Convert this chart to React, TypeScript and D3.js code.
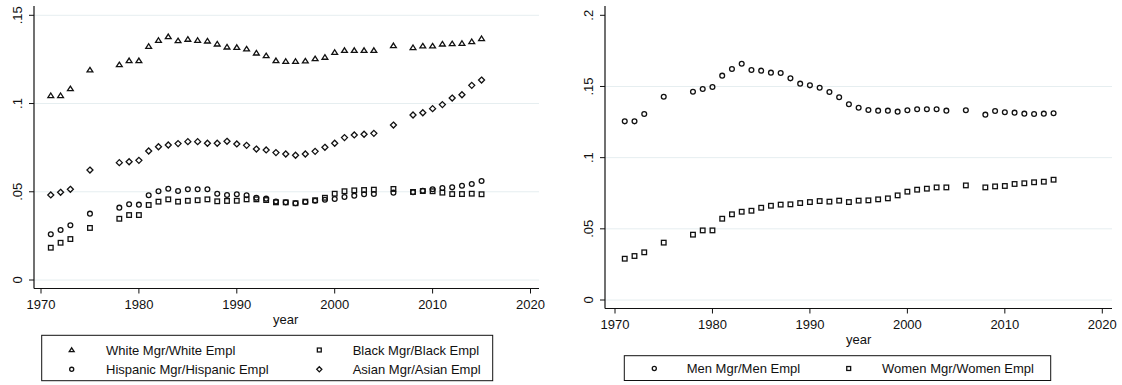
import React from "react";
import * as d3 from "d3";

// Survey years (gaps in 1974, 1976-77, 2005, 2007)
const years = [
  1971, 1972, 1973, 1975, 1978, 1979, 1980, 1981, 1982, 1983, 1984, 1985, 1986,
  1987, 1988, 1989, 1990, 1991, 1992, 1993, 1994, 1995, 1996, 1997, 1998, 1999,
  2000, 2001, 2002, 2003, 2004, 2006, 2008, 2009, 2010, 2011, 2012, 2013, 2014,
  2015,
];

// Race/ethnicity: share of managers relative to employment
const whiteRatio = [
  0.1045, 0.1045, 0.1084, 0.119, 0.122, 0.1243, 0.1243, 0.1324, 0.1358, 0.1379,
  0.1356, 0.1364, 0.1358, 0.1354, 0.1337, 0.132, 0.1318, 0.1309, 0.1286, 0.1271,
  0.1243, 0.1239, 0.1239, 0.1241, 0.1254, 0.1262, 0.129, 0.1301, 0.1301, 0.1301,
  0.1301, 0.1328, 0.1317, 0.1326, 0.1326, 0.1337, 0.1339, 0.1341, 0.1351, 0.1368,
];
const blackRatio = [
  0.0183, 0.0211, 0.0232, 0.0295, 0.0347, 0.0368, 0.0368, 0.0425, 0.0444, 0.0457,
  0.0444, 0.0449, 0.0452, 0.0457, 0.0446, 0.0448, 0.0449, 0.0457, 0.0457, 0.0453,
  0.044, 0.044, 0.0435, 0.0444, 0.0452, 0.0466, 0.0489, 0.0503, 0.0508, 0.051,
  0.0512, 0.0516, 0.0499, 0.0504, 0.0503, 0.0495, 0.0487, 0.0487, 0.0489, 0.0486,
];
const hispanicRatio = [
  0.0259, 0.0283, 0.031, 0.0376, 0.041, 0.0429, 0.0427, 0.048, 0.0503, 0.0517,
  0.0504, 0.0514, 0.0514, 0.0514, 0.0489, 0.0482, 0.0486, 0.048, 0.0466, 0.0461,
  0.0445, 0.044, 0.0435, 0.0442, 0.0449, 0.0455, 0.0459, 0.047, 0.0478, 0.0486,
  0.0487, 0.0495, 0.0497, 0.0506, 0.0514, 0.0521, 0.0525, 0.0534, 0.0544, 0.0561,
];
const asianRatio = [
  0.0482, 0.0497, 0.0514, 0.0623, 0.0665, 0.067, 0.0678, 0.0731, 0.0755, 0.0765,
  0.0773, 0.0784, 0.0784, 0.0775, 0.0775, 0.0786, 0.0771, 0.0763, 0.0742, 0.0737,
  0.0722, 0.0714, 0.0707, 0.0714, 0.0729, 0.0752, 0.0775, 0.0807, 0.0822, 0.0826,
  0.0831, 0.0878, 0.0935, 0.0948, 0.0971, 0.0994, 0.1031, 0.105, 0.1103, 0.1133,
];

// Gender: share of managers relative to employment
const menRatio = [
  0.1255, 0.1255, 0.1307, 0.1428, 0.1463, 0.1482, 0.1496, 0.1576, 0.1623, 0.166,
  0.1616, 0.1611, 0.1597, 0.1595, 0.1557, 0.152, 0.1508, 0.1491, 0.1461, 0.1424,
  0.1375, 0.1351, 0.1335, 0.133, 0.133, 0.1323, 0.1333, 0.134, 0.134, 0.134,
  0.133, 0.1333, 0.1302, 0.1328, 0.1319, 0.1316, 0.1309, 0.1307, 0.1309, 0.1312,
];
const womenRatio = [
  0.029, 0.0309, 0.0335, 0.0403, 0.0459, 0.0489, 0.0489, 0.0571, 0.0602, 0.062,
  0.0627, 0.0648, 0.0662, 0.067, 0.0672, 0.0681, 0.0688, 0.0695, 0.0691, 0.0698,
  0.0688, 0.0698, 0.07, 0.0707, 0.0714, 0.0735, 0.0761, 0.0775, 0.0782, 0.0791,
  0.0791, 0.0805, 0.0791, 0.0798, 0.0801, 0.0815, 0.082, 0.0827, 0.0831, 0.0845,
];

const xTicks = [1970, 1980, 1990, 2000, 2010, 2020];
const leftYTicks = [0, 0.05, 0.1, 0.15];
const rightYTicks = [0, 0.05, 0.1, 0.15, 0.2];
const fmtTick = (v: number) => (v === 0 ? "0" : d3.format(".2~f")(v).replace(/^0/, ""));

type Shape = "triangle" | "square" | "circle" | "diamond";

const INK = "#111";
const GRID = "#e6eef0";
const FONT = "'Liberation Sans', Arial, Helvetica, sans-serif";

function Marker({ shape, x, y, s = 1 }: { shape: Shape; x: number; y: number; s?: number }) {
  const common = { fill: "none", stroke: INK, strokeWidth: 1.3 };
  if (shape === "circle") return <circle cx={x} cy={y} r={2.4 * s} {...common} />;
  if (shape === "square") {
    const h = 2.3 * s;
    return <rect x={x - h} y={y - h} width={2 * h} height={2 * h} {...common} />;
  }
  if (shape === "diamond") {
    const h = 3 * s;
    return <path d={`M${x},${y - h}L${x + h},${y}L${x},${y + h}L${x - h},${y}Z`} {...common} />;
  }
  const w = 2.9 * s;
  const ht = 2.6 * s;
  return <path d={`M${x},${y - ht}L${x + w},${y + ht * 0.75}L${x - w},${y + ht * 0.75}Z`} {...common} />;
}

interface Series {
  label: string;
  shape: Shape;
  values: number[];
}

interface PanelProps {
  axisX: number;
  axisTop: number;
  axisBottom: number;
  axisRight: number;
  xRange: [number, number];
  yMax: number;
  yTop: number;
  yZero: number;
  yTicks: number[];
  series: Series[];
  gridTop: boolean;
}

function Panel(p: PanelProps) {
  const x = d3.scaleLinear().domain([1970, 2020]).range(p.xRange);
  const y = d3.scaleLinear().domain([0, p.yMax]).range([p.yZero, p.yTop]);
  const labelX = p.axisX - 12;
  return (
    <g>
      {p.yTicks.map((t) =>
        t === p.yMax && !p.gridTop ? null : (
          <line key={"g" + t} x1={p.axisX} x2={p.axisRight} y1={y(t)} y2={y(t)} stroke={GRID} strokeWidth={1} />
        )
      )}
      {p.series.map((s) =>
        s.values.map((v, i) => <Marker key={s.label + i} shape={s.shape} x={x(years[i])} y={y(v)} />)
      )}
      <line x1={p.axisX} x2={p.axisX} y1={p.axisTop} y2={p.axisBottom} stroke={INK} strokeWidth={1.2} />
      <line x1={p.axisX} x2={p.axisRight} y1={p.axisBottom} y2={p.axisBottom} stroke={INK} strokeWidth={1.2} />
      {p.yTicks.map((t) => (
        <g key={"y" + t}>
          <line x1={p.axisX - 5} x2={p.axisX} y1={y(t)} y2={y(t)} stroke={INK} strokeWidth={1} />
          <text
            transform={`translate(${labelX},${y(t)}) rotate(-90)`}
            textAnchor="middle"
            fontFamily={FONT}
            fontSize={13}
            fill={INK}
          >
            {fmtTick(t)}
          </text>
        </g>
      ))}
      {xTicks.map((t) => (
        <g key={"x" + t}>
          <line x1={x(t)} x2={x(t)} y1={p.axisBottom} y2={p.axisBottom + 5} stroke={INK} strokeWidth={1} />
          <text x={x(t)} y={p.axisBottom + 20} textAnchor="middle" fontFamily={FONT} fontSize={13} fill={INK}>
            {t}
          </text>
        </g>
      ))}
      <text
        x={(x(1970) + x(2020)) / 2}
        y={p.axisBottom + 35}
        textAnchor="middle"
        fontFamily={FONT}
        fontSize={13}
        fill={INK}
      >
        year
      </text>
    </g>
  );
}

function LegendItem({ s, mx, tx, y }: { s: Series; mx: number; tx: number; y: number }) {
  return (
    <g>
      <Marker shape={s.shape} x={mx} y={y} s={0.85} />
      <text x={tx} y={y + 4.6} fontFamily={FONT} fontSize={13} fill={INK}>
        {s.label}
      </text>
    </g>
  );
}

export default function App() {
  const raceSeries: Series[] = [
    { label: "White Mgr/White Empl", shape: "triangle", values: whiteRatio },
    { label: "Black Mgr/Black Empl", shape: "square", values: blackRatio },
    { label: "Hispanic Mgr/Hispanic Empl", shape: "circle", values: hispanicRatio },
    { label: "Asian Mgr/Asian Empl", shape: "diamond", values: asianRatio },
  ];
  const genderSeries: Series[] = [
    { label: "Men Mgr/Men Empl", shape: "circle", values: menRatio },
    { label: "Women Mgr/Women Empl", shape: "square", values: womenRatio },
  ];

  return (
    <svg
      width={1122}
      height={385}
      style={{ position: "absolute", left: 0, top: 0, background: "#fff" }}
    >
      <rect width={1122} height={385} fill="#fff" />
      <Panel
        axisX={34}
        axisTop={6}
        axisBottom={288.5}
        axisRight={539}
        xRange={[41, 530.5]}
        yMax={0.15}
        yTop={15.3}
        yZero={280}
        yTicks={leftYTicks}
        series={raceSeries}
        gridTop={true}
      />
      <Panel
        axisX={605}
        axisTop={6}
        axisBottom={308.5}
        axisRight={1112}
        xRange={[615, 1102.3]}
        yMax={0.2}
        yTop={15.3}
        yZero={300}
        yTicks={rightYTicks}
        series={genderSeries}
        gridTop={false}
      />

      {/* race legend */}
      <rect x={41.7} y={335.3} width={451} height={45.4} fill="#fff" stroke={INK} strokeWidth={1} />
      <LegendItem s={raceSeries[0]} mx={71.7} tx={106} y={350} />
      <LegendItem s={raceSeries[1]} mx={319.3} tx={352.7} y={350} />
      <LegendItem s={raceSeries[2]} mx={71.7} tx={106} y={369.3} />
      <LegendItem s={raceSeries[3]} mx={319.3} tx={352.7} y={369.3} />

      {/* gender legend */}
      <rect x={624.3} y={355.7} width={426.4} height={24.8} fill="#fff" stroke={INK} strokeWidth={1} />
      <LegendItem s={genderSeries[0]} mx={654.3} tx={686.7} y={368.5} />
      <LegendItem s={genderSeries[1]} mx={848.7} tx={882} y={368.5} />
    </svg>
  );
}
